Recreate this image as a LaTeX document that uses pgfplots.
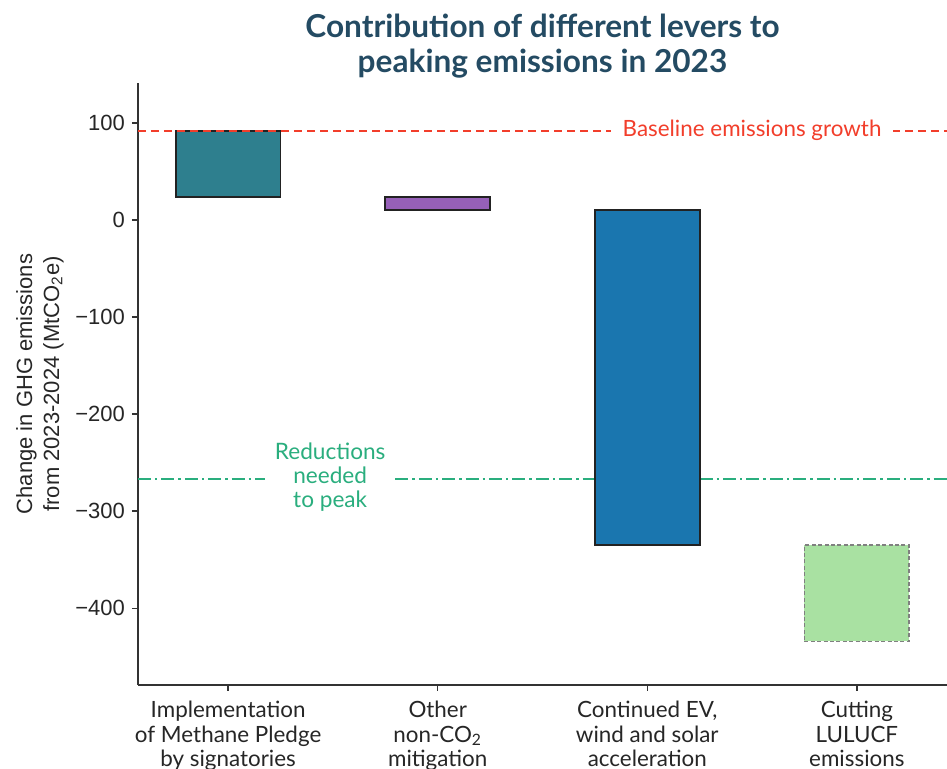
\documentclass[border=0pt]{standalone}
\usepackage{fontspec}
\setmainfont{Lato}
\newfontfamily\arialf{Liberation Sans}
\usepackage{pgfplots}
\pgfplotsset{compat=1.18}
\definecolor{cMeth}{HTML}{2E7F8E}
\definecolor{cOther}{HTML}{9660B8}
\definecolor{cEV}{HTML}{1A76AF}
\definecolor{cLulu}{HTML}{A9E1A2}
\definecolor{cRed}{HTML}{F23E2B}
\definecolor{cGreen}{HTML}{2AAE7E}
\definecolor{cTitle}{HTML}{244B63}
\definecolor{cAxis}{HTML}{333333}
\definecolor{cEdge}{HTML}{222222}

\begin{document}
\begin{tikzpicture}
\begin{axis}[
  at={(0,0)}, anchor=south west,
  scale only axis, width=404.5pt, height=301pt,
  xmin=-0.43, xmax=3.43, ymin=-479, ymax=141,
  axis lines*=left,
  axis line style={cAxis, line width=0.75pt},
  tick style={cAxis, line width=0.75pt},
  tick align=outside, major tick length=3pt,
  xtick={0,1,2,3},
  xticklabels={{Implementation\\of Methane Pledge\\by signatories},
               {Other\\non-CO\textsubscript{2}\\mitigation},
               {Continued EV,\\wind and solar\\acceleration},
               {Cutting\\LULUCF\\emissions}},
  xticklabel style={align=center, font=\fontsize{11.2}{12.3}\selectfont, text=black!85, yshift=-1.5pt},
  ytick={-400,-300,-200,-100,0,100},
  yticklabels={−400,−300,−200,−100,0,100},
  yticklabel style={font=\arialf\fontsize{11}{13}\selectfont, text=black!85},
  ylabel={Change in GHG emissions\\from 2023-2024 (MtCO\textsubscript{2}e)},
  ylabel style={align=center, font=\arialf\fontsize{11}{13.5}\selectfont, text=black!85, yshift=-1pt},
]
% reductions needed line (behind bars)
\addplot[cGreen, line width=1.1pt, dash pattern=on 6.5pt off 2pt on 1.2pt off 2pt]
  coordinates {(-0.43,-267) (3.43,-267)};
% floating bars
\addplot[fill=cMeth, draw=cEdge, line width=0.9pt]
  coordinates {(-0.25,23.7) (0.25,23.7) (0.25,91.8) (-0.25,91.8)} -- cycle;
\addplot[fill=cOther, draw=cEdge, line width=0.9pt]
  coordinates {(0.75,10.3) (1.25,10.3) (1.25,23.7) (0.75,23.7)} -- cycle;
\addplot[fill=cEV, draw=cEdge, line width=0.9pt]
  coordinates {(1.75,-335) (2.25,-335) (2.25,10.3) (1.75,10.3)} -- cycle;
\addplot[fill=cLulu, draw=gray, line width=0.8pt, dash pattern=on 2pt off 1.2pt]
  coordinates {(2.75,-434) (3.25,-434) (3.25,-335) (2.75,-335)} -- cycle;
% baseline growth line
\addplot[cRed, line width=0.8pt, dash pattern=on 4pt off 2.5pt]
  coordinates {(-0.43,91.8) (3.43,91.8)};
\node[fill=white, text=cRed, font=\fontsize{11.2}{12}\selectfont, inner xsep=6pt, inner ysep=2pt]
  at (axis cs:2.5,91.8) {Baseline emissions growth};
\node[fill=white, text=cGreen, align=center, font=\fontsize{11.3}{12}\selectfont, inner xsep=5pt, inner ysep=1pt]
  at (axis cs:0.487,-265) {Reductions\\needed\\to peak};
\end{axis}
\node[anchor=south, inner sep=0pt, align=center, text=cTitle,
      font=\bfseries\fontsize{15.8}{17.5}\selectfont]
  at (202.25pt,303.3pt) {Contribution of different levers to\\peaking emissions in 2023};
\pgfresetboundingbox
\useasboundingbox (-69pt,-42pt) rectangle (404.5pt,342.5pt);
\end{tikzpicture}
\end{document}
